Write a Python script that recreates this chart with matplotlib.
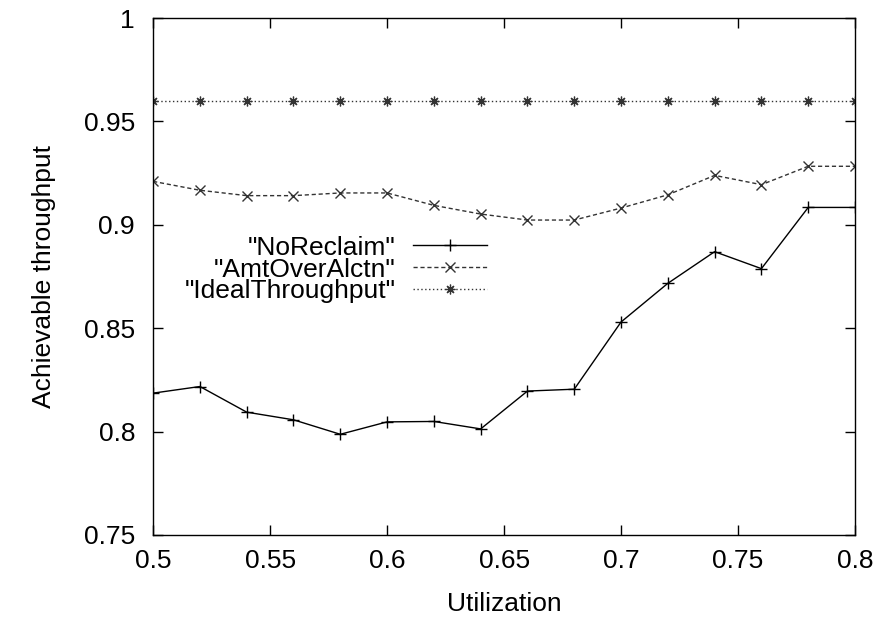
import matplotlib
matplotlib.use("Agg")
import matplotlib.pyplot as plt

plt.rcParams['font.family'] = ['Liberation Sans', 'DejaVu Sans']

utilization = [0.50, 0.52, 0.54, 0.56, 0.58, 0.60, 0.62, 0.64,
               0.66, 0.68, 0.70, 0.72, 0.74, 0.76, 0.78, 0.80]
no_reclaim = [0.8186, 0.8218, 0.8094, 0.8057, 0.7987, 0.8047, 0.8049, 0.8013,
              0.8196, 0.8205, 0.8530, 0.8717, 0.8870, 0.8788, 0.9084, 0.9084]
amt_over_alctn = [0.9210, 0.9167, 0.9141, 0.9141, 0.9154, 0.9154, 0.9094, 0.9052,
                  0.9023, 0.9023, 0.9081, 0.9145, 0.9239, 0.9194, 0.9283, 0.9283]
ideal_throughput = [0.96] * len(utilization)

x_ticks = [0.5, 0.55, 0.6, 0.65, 0.7, 0.75, 0.8]
x_tick_labels = ['0.5', '0.55', '0.6', '0.65', '0.7', '0.75', '0.8']
y_ticks = [0.75, 0.8, 0.85, 0.9, 0.95, 1.0]
y_tick_labels = ['0.75', '0.8', '0.85', '0.9', '0.95', '1']

FS = 19

fig = plt.figure(figsize=(8.8, 6.21), dpi=100)
ax = fig.add_axes([0.174, 0.1385, 0.7976, 0.8325])

ax.plot(utilization, no_reclaim, color='black', lw=1.0, marker='+',
        markersize=9, markeredgewidth=1.0, label='"NoReclaim"')
ax.plot(utilization, amt_over_alctn, color='#333333', lw=1.0,
        linestyle=(0, (3, 2)), marker='x', markersize=7, markeredgewidth=1.0,
        label='"AmtOverAlctn"')
ax.plot(utilization, ideal_throughput, color='#333333', lw=1.0,
        linestyle=(0, (1, 1.8)), marker=(8, 2, 0), markersize=7,
        markeredgewidth=0.9, label='"IdealThroughput"')

ax.set_xlim(0.5, 0.8)
ax.set_ylim(0.75, 1.0)
ax.set_xticks(x_ticks)
ax.set_xticklabels(x_tick_labels)
ax.set_yticks(y_ticks)
ax.set_yticklabels(y_tick_labels)
ax.tick_params(direction='in', top=True, right=True, length=7, width=1,
               labelsize=FS)
ax.tick_params(axis='x', pad=10)
ax.tick_params(axis='y', pad=13)
for spine in ax.spines.values():
    spine.set_linewidth(1.0)

ax.set_xlabel('Utilization', fontsize=FS, labelpad=14)
ax.set_ylabel('Achievable throughput', fontsize=FS, labelpad=20)

leg = ax.legend(loc='upper right', bbox_to_anchor=(0.475, 0.579), frameon=False,
                markerfirst=False, fontsize=FS, handlelength=2.8,
                handletextpad=0.65, labelspacing=-0.08, borderpad=0.0,
                borderaxespad=0.0)
for t in leg.get_texts():
    t.set_ha('right')

fig.savefig('out.png', dpi=100)
